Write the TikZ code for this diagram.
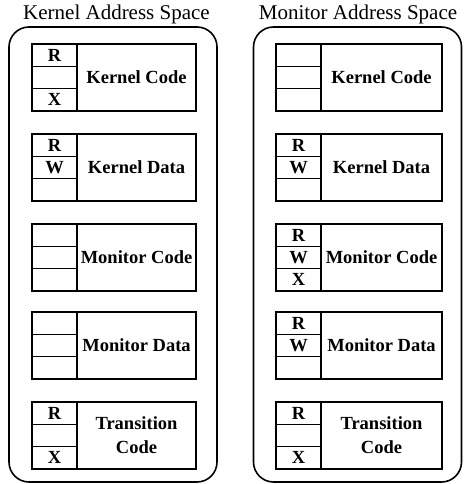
\documentclass[tikz,border=0pt]{standalone}
\usepackage{fontspec}
\setmainfont{Liberation Serif}
\newcommand\permbox[8]{%
  \node[cell,anchor=north west] (#1r) at (#2,#3) {#4};
  \node[cell,anchor=north west] (#1w) at (#1r.south west) {#5};
  \node[cell,anchor=north west] (#1x) at (#1w.south west) {#6};
  \node[lbl,anchor=north west,minimum width=#8] (#1l) at (#1r.north east) {#7};
}
\begin{document}
\begin{tikzpicture}[x=1pt,y=-1pt,
  every node/.style={line width=1.6pt,outer sep=0pt},
  cell/.style={draw,inner sep=0pt,minimum width=45pt,minimum height=22.33pt,
    font=\fontsize{18.5}{21}\selectfont\bfseries},
  lbl/.style={draw,inner sep=0pt,minimum height=67pt,align=center,
    font=\fontsize{18.5}{24}\selectfont\bfseries},
  panel/.style={draw,rounded corners=20pt,inner sep=0pt,minimum width=208pt,minimum height=455pt},
  title/.style={font=\fontsize{21}{24}\selectfont,inner sep=0pt}]
\useasboundingbox (0,0) rectangle (463,484);
\node[title,anchor=base] (ktitle) at (116.5,19.5) {Kernel Address Space};
\node[title,anchor=base] (mtitle) at (358,19.5) {Monitor Address Space};
\node[panel,anchor=north west] (kpanel) at (9,27) {};
\node[panel,anchor=north west] (mpanel) at (253.5,27) {};
% left
\permbox{ka}{32}{44}{R}{}{X}{Kernel Code}{119pt}
\permbox{kb}{32}{134}{R}{W}{}{Kernel Data}{119pt}
\permbox{kc}{32}{224}{}{}{}{Monitor Code}{119pt}
\permbox{kd}{32}{312}{}{}{}{Monitor Data}{119pt}
\permbox{ke}{32}{402}{R}{}{X}{Transition\\Code}{119pt}
% right
\permbox{ma}{276}{44}{}{}{}{Kernel Code}{121pt}
\permbox{mb}{276}{134}{R}{W}{}{Kernel Data}{121pt}
\permbox{mc}{276}{224}{R}{W}{X}{Monitor Code}{121pt}
\permbox{md}{276}{312}{R}{W}{}{Monitor Data}{121pt}
\permbox{me}{276}{402}{R}{}{X}{Transition\\Code}{121pt}
\end{tikzpicture}
\end{document}
